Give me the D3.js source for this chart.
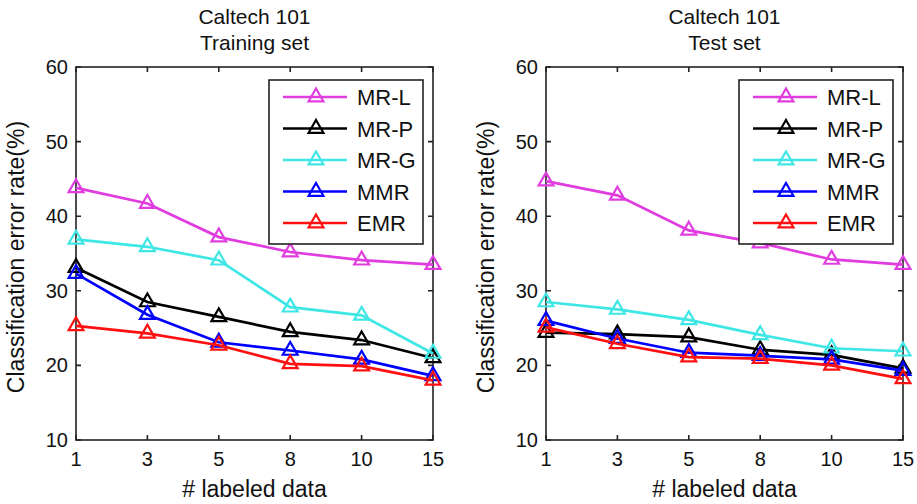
<!DOCTYPE html>
<html>
<head>
<meta charset="utf-8">
<script src="https://d3js.org/d3.v7.min.js"></script>
<style>
  body { margin: 0; background: #fff; }
  text { font-family: "Liberation Sans", Arial, sans-serif; fill: #111; }
</style>
</head>
<body>
<div id="chart"></div>
<script>
// x categories (# labeled data)
var labeled = ["1", "3", "5", "8", "10", "15"];
var yTicks = [10, 20, 30, 40, 50, 60];
var methods = ["MR-L", "MR-P", "MR-G", "MMR", "EMR"];
var colors = ["#e03ce0", "#000000", "#3ee6e6", "#0000ff", "#ff1010"];

// training set error rates (%)
var trainMRL = [43.8, 41.7, 37.2, 35.2, 34.1, 33.5];
var trainMRP = [33.1, 28.5, 26.5, 24.5, 23.4, 21.0];
var trainMRG = [36.9, 35.9, 34.1, 27.8, 26.7, 21.6];
var trainMMR = [32.3, 26.8, 23.1, 22.0, 20.8, 18.6];
var trainEMR = [25.3, 24.3, 22.7, 20.2, 19.9, 18.0];

// test set error rates (%)
var testMRL = [44.7, 42.8, 38.1, 36.4, 34.2, 33.5];
var testMRP = [24.4, 24.2, 23.8, 22.1, 21.4, 19.6];
var testMRG = [28.5, 27.5, 26.1, 24.1, 22.3, 21.9];
var testMMR = [26.0, 23.6, 21.7, 21.3, 20.8, 19.3];
var testEMR = [25.1, 22.9, 21.1, 20.9, 20.0, 18.2];

var W = 917, H = 504;
var svg = d3.select("#chart").append("svg")
    .attr("width", W).attr("height", H);

var tri = d3.symbol().type(d3.symbolTriangle).size(95);

function panel(x0, title2, series) {
    var left = x0, right = x0 + 357, top = 67, bottom = 440;
    var x = d3.scalePoint().domain(labeled).range([left, right]);
    var y = d3.scaleLinear().domain([10, 60]).range([bottom, top]);
    var g = svg.append("g");

    // titles
    var cx = (left + right) / 2;
    g.append("text").attr("x", cx).attr("y", 24).attr("text-anchor", "middle")
        .style("font-size", "21px").text("Caltech 101");
    g.append("text").attr("x", cx).attr("y", 50).attr("text-anchor", "middle")
        .style("font-size", "21px").text(title2);

    // box
    g.append("rect").attr("x", left).attr("y", top)
        .attr("width", right - left).attr("height", bottom - top)
        .attr("fill", "none").attr("stroke", "#222").attr("stroke-width", 1.6);

    // ticks inside on all four sides
    g.selectAll(".xt").data(labeled).enter().append("path")
        .attr("d", function(d) { var px = x(d);
            return "M" + px + "," + bottom + "v-5M" + px + "," + top + "v5"; })
        .attr("stroke", "#222").attr("stroke-width", 1.6);
    g.selectAll(".yt").data(yTicks).enter().append("path")
        .attr("d", function(d) { var py = y(d);
            return "M" + left + "," + py + "h5M" + right + "," + py + "h-5"; })
        .attr("stroke", "#222").attr("stroke-width", 1.6);

    // tick labels
    g.selectAll(".xl").data(labeled).enter().append("text")
        .attr("x", function(d) { return x(d); }).attr("y", 466)
        .attr("text-anchor", "middle").style("font-size", "20px")
        .text(function(d) { return d; });
    g.selectAll(".yl").data(yTicks).enter().append("text")
        .attr("x", left - 8).attr("y", function(d) { return y(d) + 7; })
        .attr("text-anchor", "end").style("font-size", "20px")
        .text(function(d) { return d; });

    // axis labels
    g.append("text").attr("x", cx).attr("y", 497).attr("text-anchor", "middle")
        .style("font-size", "23px").text("# labeled data");
    g.append("text")
        .attr("transform", "translate(" + (left - 52) + "," + 257 + ") rotate(-90)")
        .attr("text-anchor", "middle").style("font-size", "23px")
        .text("Classification error rate(%)");

    // lines and markers
    var line = d3.line()
        .x(function(d, i) { return x(labeled[i]); })
        .y(function(d) { return y(d); });
    series.forEach(function(vals, k) {
        g.append("path").datum(vals).attr("d", line)
            .attr("fill", "none").attr("stroke", colors[k]).attr("stroke-width", 2.7);
        g.selectAll(".m" + k).data(vals).enter().append("path")
            .attr("d", tri)
            .attr("transform", function(d, i) {
                return "translate(" + x(labeled[i]) + "," + y(d) + ")"; })
            .attr("fill", "none").attr("stroke", colors[k]).attr("stroke-width", 2.2);
    });

    // legend
    var lx = right - 164, ly = 80, lw = 154, lh = 164;
    var lg = g.append("g");
    lg.append("rect").attr("x", lx).attr("y", ly).attr("width", lw).attr("height", lh)
        .attr("fill", "#fff").attr("stroke", "#222").attr("stroke-width", 1.6);
    methods.forEach(function(m, k) {
        var ry = ly + 17 + k * 31.5;
        lg.append("line").attr("x1", lx + 14).attr("x2", lx + 78)
            .attr("y1", ry).attr("y2", ry)
            .attr("stroke", colors[k]).attr("stroke-width", 2.7);
        lg.append("path").attr("d", tri)
            .attr("transform", "translate(" + (lx + 47) + "," + ry + ")")
            .attr("fill", "none").attr("stroke", colors[k]).attr("stroke-width", 2.2);
        lg.append("text").attr("x", lx + 88).attr("y", ry + 8)
            .style("font-size", "22px").text(m);
    });
}

panel(76, "Training set", [trainMRL, trainMRP, trainMRG, trainMMR, trainEMR]);
panel(546, "Test set", [testMRL, testMRP, testMRG, testMMR, testEMR]);
</script>
</body>
</html>
